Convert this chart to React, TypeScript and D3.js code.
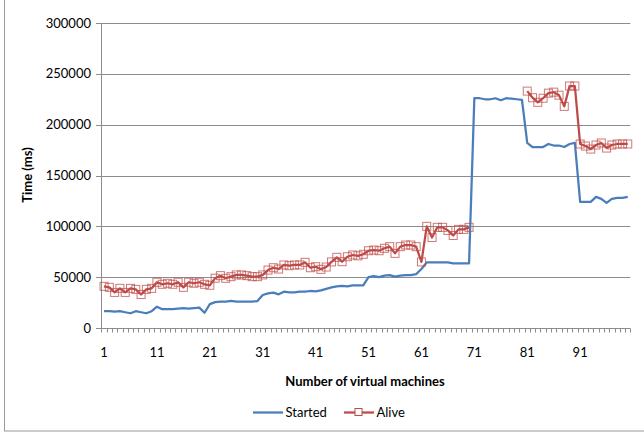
import React from "react";
import * as d3 from "d3";

const categories: number[] = d3.range(1, 101);
const tickLabels: number[] = [1, 11, 21, 31, 41, 51, 61, 71, 81, 91];
const yTicks: number[] = [0, 50000, 100000, 150000, 200000, 250000, 300000];

const started: number[] = [
  16500, 16500, 16000, 16500, 15500, 14500, 16500, 15500, 14500, 16500,
  21000, 18500, 18500, 18500, 19000, 19500, 19000, 19500, 20000, 15000,
  23500, 25500, 26000, 26000, 26600, 26000, 26000, 26000, 26000, 26500,
  32500, 34100, 34800, 33100, 35700, 35000, 35000, 35700, 35700, 36400,
  36000, 37000, 38500, 40000, 41000, 41500, 41000, 42000, 42000, 42000,
  50000, 51000, 50000, 51500, 52000, 50500, 51500, 52000, 52000, 53000,
  58000, 64500, 64500, 64500, 64500, 64500, 63500, 63500, 63500, 63500,
  226000, 226000, 225000, 225000, 226000, 224000, 226000, 225500, 225000, 224500,
  182000, 178000, 178000, 178000, 181000, 179500, 179500, 178000, 181000, 182000,
  124000, 124000, 124000, 129000, 127000, 123000, 127000, 128000, 128000, 129000,
];

const alive: (number | null)[] = [
  41000, 40000, 35000, 39000, 35000, 39000, 38000, 33000, 38000, 39000,
  45000, 43000, 44000, 43000, 45000, 40000, 45000, 44000, 45000, 43000,
  42000, 49000, 51500, 48900, 50500, 52200, 52200, 51500, 50500, 50500,
  52200, 57000, 59300, 58000, 62000, 61300, 62000, 62000, 64600, 59300,
  60300, 57700, 60000, 65000, 69500, 65200, 70100, 71800, 71000, 72500,
  76000, 76700, 76000, 78400, 80000, 73400, 80000, 81600, 81600, 80000,
  65000, 100000, 89000, 99000, 99000, 96000, 91000, 97000, 97000, 99000,
  null, null, null, null, null, null, null, null, null, null,
  233000, 226500, 222000, 226000, 231000, 232000, 229000, 218000, 238000, 238000,
  181000, 179000, 176000, 180000, 182000, 177000, 180000, 181000, 181000, 181000,
];

const W = 644;
const H = 434;
const FONT = "Lato, 'Open Sans', sans-serif";
const BLUE = "#4A7EBB";
const RED = "#BE4B48";

export default function App() {
  const x = d3.scaleBand<number>().domain(categories).range([101.4, 630.4]).padding(0);
  const y = d3.scaleLinear().domain([0, 300000]).range([328, 23]);
  const cx = (c: number) => (x(c) as number) + x.bandwidth() / 2;

  const startedLine = d3
    .line<number>()
    .x((_, i) => cx(categories[i]))
    .y((d) => y(d));
  const aliveLine = d3
    .line<number | null>()
    .defined((d) => d !== null)
    .x((_, i) => cx(categories[i]))
    .y((d) => y(d as number));

  const boundaries = d3.range(0, 101).map((i) => 101.4 + i * x.bandwidth());
  const ms = 8;

  return (
    <svg
      width={W}
      height={H}
      style={{ position: "absolute", left: 0, top: 0, background: "#fff" }}
      fontFamily={FONT}
    >
      <rect x={4.5} y={-2} width={W + 5} height={433} fill="none" stroke="#9a9a9a" strokeWidth={1} />
      {/* gridlines */}
      {yTicks.map((t) =>
        t === 0 ? null : (
          <line key={t} x1={101.4} x2={630.4} y1={Math.round(y(t)) + 0.5} y2={Math.round(y(t)) + 0.5} stroke="#8c8c8c" strokeWidth={1} />
        )
      )}
      {/* y axis */}
      <line x1={101.5} x2={101.5} y1={y(300000)} y2={328.5} stroke="#8c8c8c" />
      {yTicks.map((t) => (
        <g key={"yt" + t}>
          <line x1={96} x2={101.4} y1={Math.round(y(t)) + 0.5} y2={Math.round(y(t)) + 0.5} stroke="#8c8c8c" />
          <text x={91} y={y(t)} dy="0.35em" textAnchor="end" fontSize={13} fill="#000">
            {t}
          </text>
        </g>
      ))}
      {/* x axis */}
      <line x1={101.4} x2={630.4} y1={328.5} y2={328.5} stroke="#8c8c8c" />
      {boundaries.map((b, i) => (
        <line key={"xb" + i} x1={Math.round(b) + 0.5} x2={Math.round(b) + 0.5} y1={328.5} y2={332.5} stroke="#8c8c8c" />
      ))}
      {tickLabels.map((c) => (
        <text key={"xl" + c} x={cx(c)} y={357} textAnchor="middle" fontSize={13} fill="#000">
          {c}
        </text>
      ))}
      {/* series */}
      <path d={startedLine(started) || ""} fill="none" stroke={BLUE} strokeWidth={2.25} strokeLinejoin="round" />
      <path d={aliveLine(alive) || ""} fill="none" stroke={RED} strokeWidth={2.25} strokeLinejoin="round" />
      {alive.map((v, i) =>
        v === null ? null : (
          <rect
            key={"m" + i}
            x={cx(categories[i]) - ms / 2}
            y={y(v) - ms / 2}
            width={ms}
            height={ms}
            fill="none"
            stroke={RED}
            strokeOpacity={0.75}
            strokeWidth={1}
          />
        )
      )}
      {/* axis titles */}
      <text x={365} y={386} textAnchor="middle" fontSize={13} fontWeight="bold" fill="#000">
        Number of virtual machines
      </text>
      <text transform={`translate(32,175) rotate(-90)`} textAnchor="middle" fontSize={13} fontWeight="bold" fill="#000">
        Time (ms)
      </text>
      {/* legend */}
      <line x1={253} x2={283} y1={412.5} y2={412.5} stroke={BLUE} strokeWidth={2.25} />
      <text x={285.5} y={417} fontSize={13} fill="#000">Started</text>
      <line x1={344} x2={374} y1={412.5} y2={412.5} stroke={RED} strokeWidth={2.25} />
      <rect x={355} y={408.5} width={7} height={7} fill="#fff" stroke={RED} strokeWidth={1} />
      <text x={376.5} y={417} fontSize={13} fill="#000">Alive</text>
    </svg>
  );
}
